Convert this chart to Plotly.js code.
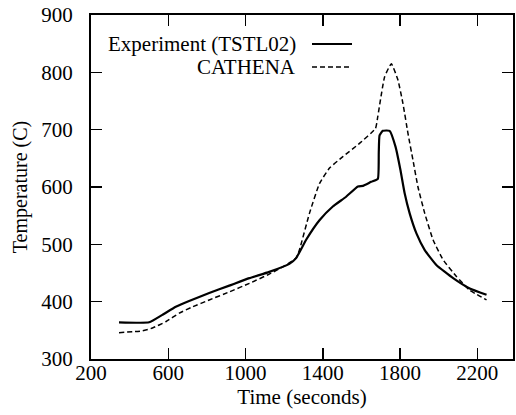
<!DOCTYPE html>
<html>
<head>
<meta charset="utf-8">
<script src="https://cdn.plot.ly/plotly-3.0.1.min.js"></script>
<style>html,body{margin:0;padding:0;background:#fff}#chart{width:516px;height:415px}</style>
</head>
<body>
<div id="chart"></div>
<script>
// Experiment (TSTL02) - solid line
const expTime = [345, 501, 570, 639, 708, 812, 916, 1020, 1123, 1227, 1262, 1314, 1383, 1452, 1521, 1582, 1608, 1651, 1685, 1690, 1694, 1711, 1746, 1777, 1802, 1824, 1850, 1885, 1928, 1988, 2075, 2161, 2248];
const expTemp = [364, 364, 377, 391, 401, 415, 428, 441, 452, 466, 476, 508, 542, 566, 583, 601, 602, 609, 614, 660, 690, 698, 698, 670, 630, 589, 554, 519, 490, 464, 441, 423, 412];

// CATHENA - dashed line
const cathTime = [345, 466, 518, 587, 657, 726, 812, 916, 1020, 1123, 1210, 1262, 1279, 1331, 1383, 1435, 1504, 1590, 1673, 1685, 1720, 1755, 1789, 1815, 1841, 1867, 1893, 1928, 1971, 2023, 2092, 2161, 2248];
const cathTemp = [346, 349, 354, 365, 380, 391, 403, 417, 432, 448, 464, 476, 490, 554, 606, 633, 653, 676, 702, 723, 792, 815, 787, 746, 694, 647, 600, 554, 508, 473, 444, 420, 403];

const xTicks = [200, 600, 1000, 1400, 1800, 2200];
const yTicks = [300, 400, 500, 600, 700, 800, 900];

const seriesNames = ["Experiment (TSTL02)", "CATHENA"];

const FONT = "Liberation Serif, Times New Roman, serif";

const traces = [
  {x: expTime, y: expTemp, type: "scatter", mode: "lines", name: seriesNames[0],
   line: {color: "#000", width: 2.2, shape: "spline", smoothing: 0.4}, showlegend: false},
  {x: cathTime, y: cathTemp, type: "scatter", mode: "lines", name: seriesNames[1],
   line: {color: "#000", width: 1.5, dash: "5px,3px", shape: "spline", smoothing: 0.4}, showlegend: false}
];

const layout = {
  width: 516, height: 415,
  margin: {l: 91, r: 3, t: 15, b: 56},
  paper_bgcolor: "#fff", plot_bgcolor: "#fff",
  font: {family: FONT, color: "#000", size: 21},
  xaxis: {
    range: [200, 2385], tickvals: xTicks, ticktext: xTicks.map(String),
    ticks: "inside", ticklen: 11, tickwidth: 1.5, tickcolor: "#000",
    showline: true, linecolor: "#000", linewidth: 2, mirror: "ticks",
    showgrid: false, zeroline: false, ticklabelstandoff: -6,
    tickfont: {family: FONT, size: 21},
    title: {text: "Time (seconds)", font: {family: FONT, size: 21}, standoff: 0}
  },
  yaxis: {
    range: [300, 900], tickvals: yTicks, ticktext: yTicks.map(String),
    ticks: "inside", ticklen: 11, tickwidth: 1.5, tickcolor: "#000",
    showline: true, linecolor: "#000", linewidth: 2, mirror: "ticks",
    showgrid: false, zeroline: false, ticklabelstandoff: 12,
    tickfont: {family: FONT, size: 21},
    title: {text: "Temperature (C)", font: {family: FONT, size: 20}, standoff: 8}
  },
  showlegend: false,
  annotations: [
    {xref: "paper", yref: "paper", x: 0.4905, y: 0.9157, text: seriesNames[0], showarrow: false,
     xanchor: "right", yanchor: "middle", font: {family: FONT, size: 21}},
    {xref: "paper", yref: "paper", x: 0.4905, y: 0.849, text: seriesNames[1], showarrow: false,
     xanchor: "right", yanchor: "middle", font: {family: FONT, size: 21}}
  ],
  shapes: [
    {type: "line", xref: "paper", yref: "paper", x0: 0.5237, x1: 0.6185, y0: 0.9157, y1: 0.9157,
     line: {color: "#000", width: 2}},
    {type: "line", xref: "paper", yref: "paper", x0: 0.5237, x1: 0.6185, y0: 0.849, y1: 0.849,
     line: {color: "#000", width: 1.5, dash: "5px,3px"}}
  ]
};

Plotly.newPlot("chart", traces, layout, {staticPlot: true, displayModeBar: false});
</script>
</body>
</html>
